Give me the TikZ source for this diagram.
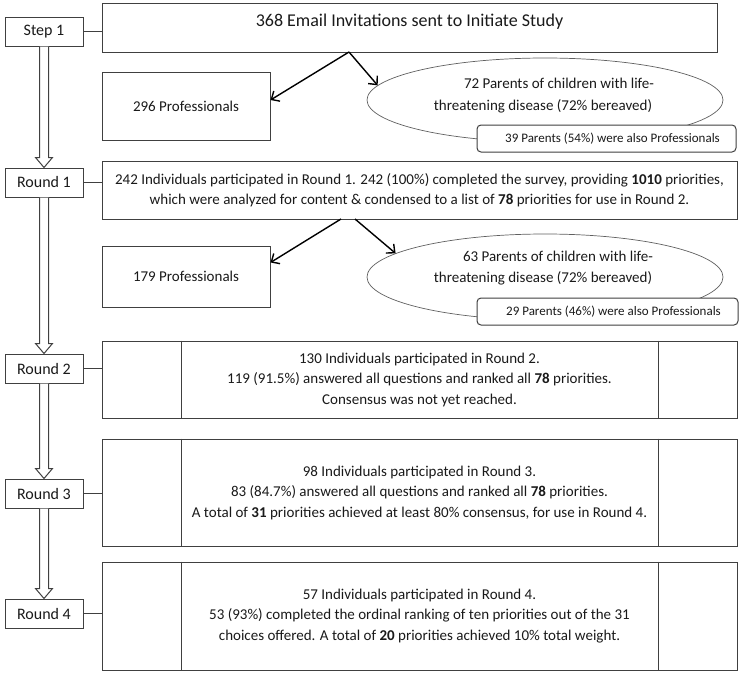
\documentclass[tikz,border=0pt]{standalone}
\usepackage{fontspec}
\setmainfont{Carlito}
\usetikzlibrary{arrows.meta,calc,shapes.geometric}
\definecolor{lin}{HTML}{404040}
\definecolor{elin}{HTML}{606060}
\definecolor{tx}{HTML}{1A1A1A}
\begin{document}
\begin{tikzpicture}[x=1pt,y=-1pt,
  box/.style={draw=lin, line width=1pt, fill=white, inner sep=0pt, align=center, text=tx},
  lab/.style={box, minimum width=78pt, minimum height=29pt, font=\fontsize{16}{19}\selectfont},
  txt/.style={font=\fontsize{15}{20.5}\selectfont, align=center, inner sep=0pt, text=tx},
  wide/.style={box, txt, minimum width=635pt},
  prof/.style={box, txt, minimum width=168pt},
  ell/.style={draw=elin, line width=0.7pt, ellipse, fill=white, inner sep=0pt, minimum width=356pt},
  rbox/.style={draw=lin, line width=1pt, fill=white, rounded corners=4pt, inner sep=0pt,
    minimum width=259pt, minimum height=27pt, font=\fontsize{13}{16}\selectfont, text=tx},
  con/.style={draw=lin, line width=1pt},
  arr/.style={draw=black, line width=1.4pt, -{Straight Barb[length=6.5pt,width=12pt,line width=1.4pt]}},
  blk/.style={draw=lin, line width=1pt, fill=white},
  inner/.style={draw=lin, line width=1pt}
]
\path[use as bounding box] (0,0) rectangle (750,675);

% Step 1
\node[lab] (s1) at (44,31.5) {Step 1};
\node[box, minimum width=615pt, minimum height=49pt] (b0) at (409.5,27.5) {};
\node[txt, font=\fontsize{18}{22}\selectfont] (t0) at (409.5,22) {368 Email Invitations sent to Initiate Study};
\draw[con] (s1.east) -- (s1.east -| b0.west);

\node[prof, minimum height=68pt] (p1) at (186,106) {296 Professionals};
\node[ell, minimum height=84pt] (e1) at (545,100) {};
\node[txt] (e1t) at (543,95.5) {\hspace*{32pt}72 Parents of children with life-\\[2pt]threatening disease (72\% bereaved)};
\node[rbox] (n1) at (606.5,138.5) {\hspace*{12pt}39 Parents (54\%) were also Professionals};
\coordinate (a1) at (349,52);
\draw[arr] (a1) -- ([yshift=6pt]p1.east);
\draw[arr] (a1) -- (e1.175);

% Round 1
\node[lab] (r1) at (44,182.5) {Round 1};
\node[wide, minimum height=58pt] (b1) at (419.5,190) {242 Individuals participated in Round 1. 242 (100\%) completed the survey, providing \textbf{1010} priorities,\\which were analyzed for content \& condensed to a list of \textbf{78} priorities for use in Round 2.};
\draw[con] (r1.east) -- (r1.east -| b1.west);

\node[prof, minimum height=61pt] (p2) at (186,276.5) {179 Professionals};
\node[ell, minimum height=86pt] (e2) at (545,277) {};
\node[txt] (e2t) at (543,268) {\hspace*{30pt}63 Parents of children with life-\\threatening disease (72\% bereaved)};
\node[rbox, minimum width=261pt] (n2) at (607.5,311.5) {\hspace*{12pt}29 Parents (46\%) were also Professionals};
\coordinate (a2) at (341,219);
\coordinate (a3) at (355,219);
\draw[arr] (a2) -- ([yshift=14pt]p2.east);
\draw[arr] (a3) -- (e2.171);

% Round 2
\node[lab] (r2) at (44,368.5) {Round 2};
\node[wide, minimum height=77pt] (b2) at (419.5,379.5) {130 Individuals participated in Round 2.\\119 (91.5\%) answered all questions and ranked all \textbf{78} priorities.\\Consensus was not yet reached.};
\draw[con] (r2.east) -- (r2.east -| b2.west);

% Round 3
\node[lab] (r3) at (44,493.5) {Round 3};
\node[wide, minimum height=107pt] (b3) at (419.5,492.5) {98 Individuals participated in Round 3.\\83 (84.7\%) answered all questions and ranked all \textbf{78} priorities.\\A total of \textbf{31} priorities achieved at least 80\% consensus, for use in Round 4.};
\draw[con] (r3.east) -- (r3.east -| b3.west);

% Round 4
\node[lab] (r4) at (44,613.5) {Round 4};
\node[wide, minimum height=108pt] (b4) at (419.5,616) {57 Individuals participated in Round 4.\\53 (93\%) completed the ordinal ranking of ten priorities out of the 31\\choices offered. A total of \textbf{20} priorities achieved 10\% total weight.};
\draw[con] (r4.east) -- (r4.east -| b4.west);

% inner divider lines
\foreach \b in {b2,b3,b4}{
  \draw[inner] ([xshift=80pt]\b.north west) -- ([xshift=80pt]\b.south west);
  \draw[inner] ([xshift=-79pt]\b.north east) -- ([xshift=-79pt]\b.south east);
}

% hollow block arrows
\foreach \u/\v in {s1/r1, r1/r2, r2/r3, r3/r4}{
  \draw[blk] let \p1=(\u.south), \p2=(\v.north) in
    (\x1-4.5pt,\y1) -- (\x1-4.5pt,\y2+10pt) -- (\x1-8.5pt,\y2+10pt) -- (\x1,\y2)
    -- (\x1+8.5pt,\y2+10pt) -- (\x1+4.5pt,\y2+10pt) -- (\x1+4.5pt,\y1);
}
\end{tikzpicture}
\end{document}
